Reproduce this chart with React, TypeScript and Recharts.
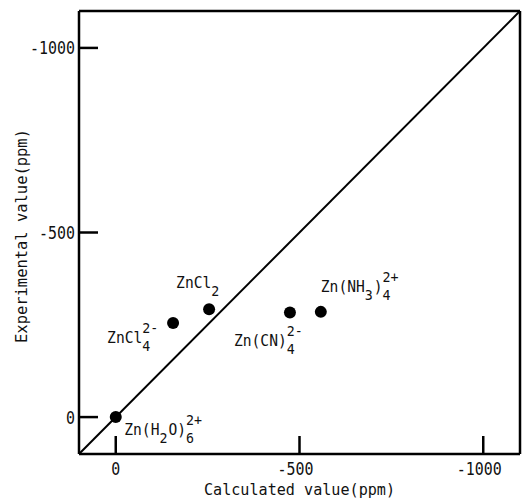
import React from "react"
import { ScatterChart, Scatter, XAxis, YAxis, ReferenceLine, Label } from "recharts"

// compounds, markup: _{..} subscript, ^{..} superscript
const NAMES = ["Zn(H_{2}O)_{6}^{2+}", "ZnCl_{4}^{2-}", "ZnCl_{2}", "Zn(CN)_{4}^{2-}", "Zn(NH_{3})_{4}^{2+}"]
const CALCULATED = [0, -156, -254, -474, -558]
const EXPERIMENTAL = [0, -255, -292, -283, -285]
const X_TICKS = [0, -500, -1000]
const Y_TICKS = [0, -500, -1000]

const data = NAMES.map((name, i) => ({ name, x: CALCULATED[i], y: EXPERIMENTAL[i] }))

// label placement relative to the dot (left edge, baseline)
const LABEL_OFFSET: Record<string, [number, number]> = {
  "Zn(H_{2}O)_{6}^{2+}": [8.5, 18],
  "ZnCl_{4}^{2-}": [-66, 20],
  "ZnCl_{2}": [-33, -21],
  "Zn(CN)_{4}^{2-}": [-56, 33],
  "Zn(NH_{3})_{4}^{2+}": [0, -20],
}

const FONT = "'DejaVu Sans Mono', monospace"
const CW = 8.8
const SCW = 8

function parse(s: string) {
  const re = /([_^])\{([^}]*)\}|([^_^]+)/g
  const out: { k: string; t: string }[] = []
  let m
  while ((m = re.exec(s))) {
    if (m[3]) out.push({ k: "n", t: m[3] })
    else out.push({ k: m[1] === "_" ? "sub" : "sup", t: m[2] })
  }
  return out
}

function Formula({ x, y, text }: { x: number; y: number; text: string }) {
  const parts = parse(text)
  const els: React.ReactNode[] = []
  let cx = x
  const t = (key: string, tx: number, ty: number, s: string, size: number, cw: number) => (
    <text key={key} x={tx} y={ty} fontFamily={FONT} fontSize={size} fill="#111"
      textLength={s.length * cw} lengthAdjust="spacingAndGlyphs">{s}</text>
  )
  for (let i = 0; i < parts.length; i++) {
    const p = parts[i]
    if (p.k === "n") {
      els.push(t("n" + i, cx, y, p.t, 16, CW))
      cx += p.t.length * CW
    } else if (p.k === "sub") {
      els.push(t("s" + i, cx, y + 8, p.t, 14, SCW))
      let w = p.t.length * SCW
      const nx = parts[i + 1]
      if (nx && nx.k === "sup") {
        els.push(t("p" + i, cx, y - 10, nx.t, 14, SCW))
        w = Math.max(w, nx.t.length * SCW)
        i++
      }
      cx += w + 1
    } else {
      els.push(t("p" + i, cx, y - 10, p.t, 14, SCW))
      cx += p.t.length * SCW
    }
  }
  return <g>{els}</g>
}

const Dot = (props: any) => {
  const { cx, cy, payload } = props
  const off = LABEL_OFFSET[payload.name] || [8, 18]
  return (
    <g>
      <circle cx={cx} cy={cy} r={6} fill="#000" />
      <Formula x={cx + off[0]} y={cy + off[1]} text={payload.name} />
    </g>
  )
}

const XTick = (props: any) => {
  const { x, y, payload } = props
  const s = String(payload.value)
  const neg = s.startsWith("-")
  return (
    <g>
      <line x1={x} x2={x} y1={y} y2={y - 18} stroke="#000" strokeWidth={2.5} />
      <text x={x - (neg ? 4 : 0)} y={y + 21} textAnchor="middle" fontFamily={FONT} fontSize={17}
        fill="#111" textLength={s.length * 9} lengthAdjust="spacingAndGlyphs">{s}</text>
    </g>
  )
}

const YTick = (props: any) => {
  const { x, y, payload } = props
  const s = String(payload.value)
  return (
    <g>
      <line x1={x} x2={x + 19} y1={y} y2={y} stroke="#000" strokeWidth={2.5} />
      <text x={x - 4} y={y + 6.5} textAnchor="end" fontFamily={FONT} fontSize={17}
        fill="#111" textLength={s.length * 9} lengthAdjust="spacingAndGlyphs">{s}</text>
    </g>
  )
}

export default function App() {
  return (
    <div style={{ position: "absolute", left: 0, top: 0, width: 524, height: 500, background: "#fff" }}>
      <ScatterChart width={524} height={500} margin={{ top: 11, right: 4, bottom: 0, left: 0 }}>
        <XAxis
          type="number"
          dataKey="x"
          domain={[-1100, 100]}
          reversed
          ticks={X_TICKS}
          tick={<XTick />}
          tickSize={0}
          tickMargin={0}
          tickLine={false}
          height={46}
          axisLine={{ stroke: "#000", strokeWidth: 2.5 }}
        >
          <Label
            content={() => (
              <text x={299.5} y={495} textAnchor="middle" fontFamily={FONT} fontSize={16} fill="#111"
                textLength={21 * 9.1} lengthAdjust="spacingAndGlyphs">Calculated value(ppm)</text>
            )}
          />
        </XAxis>
        <YAxis
          type="number"
          dataKey="y"
          domain={[-1100, 100]}
          reversed
          ticks={Y_TICKS}
          tick={<YTick />}
          tickSize={0}
          tickMargin={0}
          tickLine={false}
          width={79}
          axisLine={{ stroke: "#000", strokeWidth: 2.5 }}
        >
          <Label
            content={() => (
              <text x={27} y={236} transform="rotate(-90, 27, 236)" textAnchor="middle" fontFamily={FONT}
                fontSize={16} fill="#111" textLength={23 * 9.3} lengthAdjust="spacingAndGlyphs">
                Experimental value(ppm)
              </text>
            )}
          />
        </YAxis>
        <ReferenceLine y={-1100} stroke="#000" strokeWidth={2.5} />
        <ReferenceLine x={-1100} stroke="#000" strokeWidth={2.5} />
        <ReferenceLine
          segment={[{ x: 100, y: 100 }, { x: -1100, y: -1100 }]}
          stroke="#000"
          strokeWidth={2}
          ifOverflow="visible"
        />
        <Scatter data={data} shape={<Dot />} isAnimationActive={false} />
      </ScatterChart>
    </div>
  )
}
